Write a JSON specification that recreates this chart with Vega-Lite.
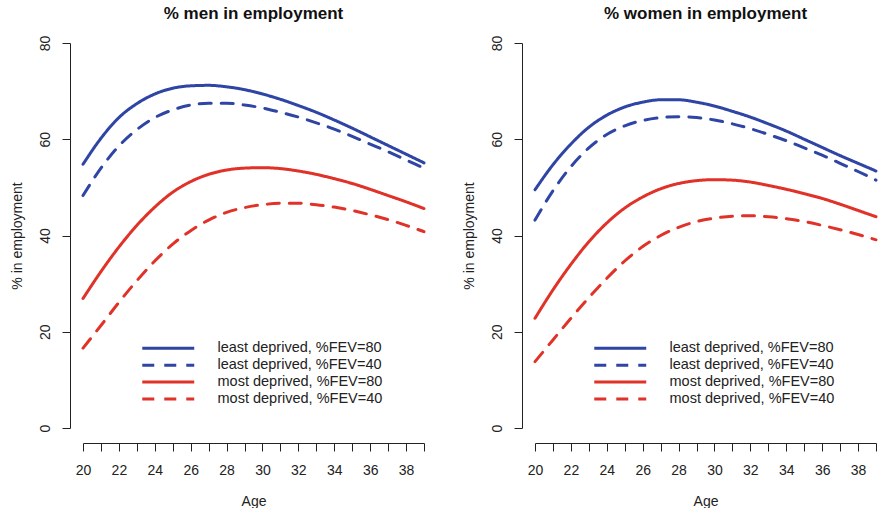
{
  "$schema": "https://vega.github.io/schema/vega-lite/v6.json",
  "background": "white",
  "padding": {"left": 10, "top": 5, "right": 0, "bottom": 0},
  "config": {
    "font": "Liberation Sans",
    "view": {"stroke": null},
    "axis": {"domainColor": "#222", "tickColor": "#222", "labelColor": "#222", "titleColor": "#222", "labelFont": "Liberation Sans", "titleFont": "Liberation Sans", "labelFontSize": 14, "titleFontSize": 14, "titleFontWeight": "normal", "grid": false, "tickSize": 8, "domainWidth": 1, "tickWidth": 1},
    "legend": {"labelFont": "Liberation Sans", "labelFontSize": 14.5, "labelColor": "#222", "labelLimit": 0}
  },
  "datasets": {
    "emp": [
      {"sex":"men","group":"least deprived, %FEV=80","age":20,"pct":54.8},{"sex":"men","group":"least deprived, %FEV=80","age":21,"pct":60.2},{"sex":"men","group":"least deprived, %FEV=80","age":22,"pct":64.5},{"sex":"men","group":"least deprived, %FEV=80","age":23,"pct":67.4},{"sex":"men","group":"least deprived, %FEV=80","age":24,"pct":69.4},{"sex":"men","group":"least deprived, %FEV=80","age":25,"pct":70.6},{"sex":"men","group":"least deprived, %FEV=80","age":26,"pct":71.1},{"sex":"men","group":"least deprived, %FEV=80","age":27,"pct":71.2},{"sex":"men","group":"least deprived, %FEV=80","age":28,"pct":70.9},{"sex":"men","group":"least deprived, %FEV=80","age":29,"pct":70.3},{"sex":"men","group":"least deprived, %FEV=80","age":30,"pct":69.4},{"sex":"men","group":"least deprived, %FEV=80","age":31,"pct":68.3},{"sex":"men","group":"least deprived, %FEV=80","age":32,"pct":67.0},{"sex":"men","group":"least deprived, %FEV=80","age":33,"pct":65.6},{"sex":"men","group":"least deprived, %FEV=80","age":34,"pct":64.0},{"sex":"men","group":"least deprived, %FEV=80","age":35,"pct":62.3},{"sex":"men","group":"least deprived, %FEV=80","age":36,"pct":60.5},{"sex":"men","group":"least deprived, %FEV=80","age":37,"pct":58.7},{"sex":"men","group":"least deprived, %FEV=80","age":38,"pct":56.9},{"sex":"men","group":"least deprived, %FEV=80","age":39,"pct":55.1},
      {"sex":"men","group":"least deprived, %FEV=40","age":20,"pct":48.3},{"sex":"men","group":"least deprived, %FEV=40","age":21,"pct":54.0},{"sex":"men","group":"least deprived, %FEV=40","age":22,"pct":58.6},{"sex":"men","group":"least deprived, %FEV=40","age":23,"pct":62.0},{"sex":"men","group":"least deprived, %FEV=40","age":24,"pct":64.5},{"sex":"men","group":"least deprived, %FEV=40","age":25,"pct":66.1},{"sex":"men","group":"least deprived, %FEV=40","age":26,"pct":67.1},{"sex":"men","group":"least deprived, %FEV=40","age":27,"pct":67.5},{"sex":"men","group":"least deprived, %FEV=40","age":28,"pct":67.5},{"sex":"men","group":"least deprived, %FEV=40","age":29,"pct":67.1},{"sex":"men","group":"least deprived, %FEV=40","age":30,"pct":66.5},{"sex":"men","group":"least deprived, %FEV=40","age":31,"pct":65.6},{"sex":"men","group":"least deprived, %FEV=40","age":32,"pct":64.6},{"sex":"men","group":"least deprived, %FEV=40","age":33,"pct":63.4},{"sex":"men","group":"least deprived, %FEV=40","age":34,"pct":62.1},{"sex":"men","group":"least deprived, %FEV=40","age":35,"pct":60.6},{"sex":"men","group":"least deprived, %FEV=40","age":36,"pct":59.0},{"sex":"men","group":"least deprived, %FEV=40","age":37,"pct":57.4},{"sex":"men","group":"least deprived, %FEV=40","age":38,"pct":55.7},{"sex":"men","group":"least deprived, %FEV=40","age":39,"pct":54.0},
      {"sex":"men","group":"most deprived, %FEV=80","age":20,"pct":26.9},{"sex":"men","group":"most deprived, %FEV=80","age":21,"pct":32.5},{"sex":"men","group":"most deprived, %FEV=80","age":22,"pct":37.6},{"sex":"men","group":"most deprived, %FEV=80","age":23,"pct":42.1},{"sex":"men","group":"most deprived, %FEV=80","age":24,"pct":45.9},{"sex":"men","group":"most deprived, %FEV=80","age":25,"pct":49.0},{"sex":"men","group":"most deprived, %FEV=80","age":26,"pct":51.2},{"sex":"men","group":"most deprived, %FEV=80","age":27,"pct":52.7},{"sex":"men","group":"most deprived, %FEV=80","age":28,"pct":53.6},{"sex":"men","group":"most deprived, %FEV=80","age":29,"pct":54.0},{"sex":"men","group":"most deprived, %FEV=80","age":30,"pct":54.1},{"sex":"men","group":"most deprived, %FEV=80","age":31,"pct":53.9},{"sex":"men","group":"most deprived, %FEV=80","age":32,"pct":53.4},{"sex":"men","group":"most deprived, %FEV=80","age":33,"pct":52.7},{"sex":"men","group":"most deprived, %FEV=80","age":34,"pct":51.8},{"sex":"men","group":"most deprived, %FEV=80","age":35,"pct":50.8},{"sex":"men","group":"most deprived, %FEV=80","age":36,"pct":49.6},{"sex":"men","group":"most deprived, %FEV=80","age":37,"pct":48.3},{"sex":"men","group":"most deprived, %FEV=80","age":38,"pct":47.0},{"sex":"men","group":"most deprived, %FEV=80","age":39,"pct":45.6},
      {"sex":"men","group":"most deprived, %FEV=40","age":20,"pct":16.6},{"sex":"men","group":"most deprived, %FEV=40","age":21,"pct":21.3},{"sex":"men","group":"most deprived, %FEV=40","age":22,"pct":26.1},{"sex":"men","group":"most deprived, %FEV=40","age":23,"pct":30.6},{"sex":"men","group":"most deprived, %FEV=40","age":24,"pct":34.7},{"sex":"men","group":"most deprived, %FEV=40","age":25,"pct":38.2},{"sex":"men","group":"most deprived, %FEV=40","age":26,"pct":41.0},{"sex":"men","group":"most deprived, %FEV=40","age":27,"pct":43.2},{"sex":"men","group":"most deprived, %FEV=40","age":28,"pct":44.8},{"sex":"men","group":"most deprived, %FEV=40","age":29,"pct":45.8},{"sex":"men","group":"most deprived, %FEV=40","age":30,"pct":46.4},{"sex":"men","group":"most deprived, %FEV=40","age":31,"pct":46.7},{"sex":"men","group":"most deprived, %FEV=40","age":32,"pct":46.7},{"sex":"men","group":"most deprived, %FEV=40","age":33,"pct":46.4},{"sex":"men","group":"most deprived, %FEV=40","age":34,"pct":45.9},{"sex":"men","group":"most deprived, %FEV=40","age":35,"pct":45.2},{"sex":"men","group":"most deprived, %FEV=40","age":36,"pct":44.3},{"sex":"men","group":"most deprived, %FEV=40","age":37,"pct":43.3},{"sex":"men","group":"most deprived, %FEV=40","age":38,"pct":42.1},{"sex":"men","group":"most deprived, %FEV=40","age":39,"pct":40.8},
      {"sex":"women","group":"least deprived, %FEV=80","age":20,"pct":49.5},{"sex":"women","group":"least deprived, %FEV=80","age":21,"pct":54.7},{"sex":"women","group":"least deprived, %FEV=80","age":22,"pct":59.0},{"sex":"women","group":"least deprived, %FEV=80","age":23,"pct":62.5},{"sex":"women","group":"least deprived, %FEV=80","age":24,"pct":65.0},{"sex":"women","group":"least deprived, %FEV=80","age":25,"pct":66.7},{"sex":"women","group":"least deprived, %FEV=80","age":26,"pct":67.7},{"sex":"women","group":"least deprived, %FEV=80","age":27,"pct":68.2},{"sex":"women","group":"least deprived, %FEV=80","age":28,"pct":68.2},{"sex":"women","group":"least deprived, %FEV=80","age":29,"pct":67.7},{"sex":"women","group":"least deprived, %FEV=80","age":30,"pct":66.9},{"sex":"women","group":"least deprived, %FEV=80","age":31,"pct":65.8},{"sex":"women","group":"least deprived, %FEV=80","age":32,"pct":64.6},{"sex":"women","group":"least deprived, %FEV=80","age":33,"pct":63.2},{"sex":"women","group":"least deprived, %FEV=80","age":34,"pct":61.7},{"sex":"women","group":"least deprived, %FEV=80","age":35,"pct":60.0},{"sex":"women","group":"least deprived, %FEV=80","age":36,"pct":58.3},{"sex":"women","group":"least deprived, %FEV=80","age":37,"pct":56.6},{"sex":"women","group":"least deprived, %FEV=80","age":38,"pct":55.0},{"sex":"women","group":"least deprived, %FEV=80","age":39,"pct":53.4},
      {"sex":"women","group":"least deprived, %FEV=40","age":20,"pct":43.2},{"sex":"women","group":"least deprived, %FEV=40","age":21,"pct":49.3},{"sex":"women","group":"least deprived, %FEV=40","age":22,"pct":54.3},{"sex":"women","group":"least deprived, %FEV=40","age":23,"pct":58.2},{"sex":"women","group":"least deprived, %FEV=40","age":24,"pct":61.0},{"sex":"women","group":"least deprived, %FEV=40","age":25,"pct":62.8},{"sex":"women","group":"least deprived, %FEV=40","age":26,"pct":63.9},{"sex":"women","group":"least deprived, %FEV=40","age":27,"pct":64.5},{"sex":"women","group":"least deprived, %FEV=40","age":28,"pct":64.7},{"sex":"women","group":"least deprived, %FEV=40","age":29,"pct":64.5},{"sex":"women","group":"least deprived, %FEV=40","age":30,"pct":64.0},{"sex":"women","group":"least deprived, %FEV=40","age":31,"pct":63.2},{"sex":"women","group":"least deprived, %FEV=40","age":32,"pct":62.2},{"sex":"women","group":"least deprived, %FEV=40","age":33,"pct":61.0},{"sex":"women","group":"least deprived, %FEV=40","age":34,"pct":59.7},{"sex":"women","group":"least deprived, %FEV=40","age":35,"pct":58.2},{"sex":"women","group":"least deprived, %FEV=40","age":36,"pct":56.7},{"sex":"women","group":"least deprived, %FEV=40","age":37,"pct":55.0},{"sex":"women","group":"least deprived, %FEV=40","age":38,"pct":53.3},{"sex":"women","group":"least deprived, %FEV=40","age":39,"pct":51.5},
      {"sex":"women","group":"most deprived, %FEV=80","age":20,"pct":22.8},{"sex":"women","group":"most deprived, %FEV=80","age":21,"pct":28.7},{"sex":"women","group":"most deprived, %FEV=80","age":22,"pct":34.0},{"sex":"women","group":"most deprived, %FEV=80","age":23,"pct":38.7},{"sex":"women","group":"most deprived, %FEV=80","age":24,"pct":42.6},{"sex":"women","group":"most deprived, %FEV=80","age":25,"pct":45.7},{"sex":"women","group":"most deprived, %FEV=80","age":26,"pct":48.0},{"sex":"women","group":"most deprived, %FEV=80","age":27,"pct":49.7},{"sex":"women","group":"most deprived, %FEV=80","age":28,"pct":50.8},{"sex":"women","group":"most deprived, %FEV=80","age":29,"pct":51.4},{"sex":"women","group":"most deprived, %FEV=80","age":30,"pct":51.6},{"sex":"women","group":"most deprived, %FEV=80","age":31,"pct":51.5},{"sex":"women","group":"most deprived, %FEV=80","age":32,"pct":51.1},{"sex":"women","group":"most deprived, %FEV=80","age":33,"pct":50.4},{"sex":"women","group":"most deprived, %FEV=80","age":34,"pct":49.6},{"sex":"women","group":"most deprived, %FEV=80","age":35,"pct":48.7},{"sex":"women","group":"most deprived, %FEV=80","age":36,"pct":47.7},{"sex":"women","group":"most deprived, %FEV=80","age":37,"pct":46.5},{"sex":"women","group":"most deprived, %FEV=80","age":38,"pct":45.2},{"sex":"women","group":"most deprived, %FEV=80","age":39,"pct":43.9},
      {"sex":"women","group":"most deprived, %FEV=40","age":20,"pct":13.8},{"sex":"women","group":"most deprived, %FEV=40","age":21,"pct":18.3},{"sex":"women","group":"most deprived, %FEV=40","age":22,"pct":22.8},{"sex":"women","group":"most deprived, %FEV=40","age":23,"pct":27.1},{"sex":"women","group":"most deprived, %FEV=40","age":24,"pct":31.1},{"sex":"women","group":"most deprived, %FEV=40","age":25,"pct":34.7},{"sex":"women","group":"most deprived, %FEV=40","age":26,"pct":37.7},{"sex":"women","group":"most deprived, %FEV=40","age":27,"pct":40.0},{"sex":"women","group":"most deprived, %FEV=40","age":28,"pct":41.7},{"sex":"women","group":"most deprived, %FEV=40","age":29,"pct":42.9},{"sex":"women","group":"most deprived, %FEV=40","age":30,"pct":43.6},{"sex":"women","group":"most deprived, %FEV=40","age":31,"pct":44.0},{"sex":"women","group":"most deprived, %FEV=40","age":32,"pct":44.1},{"sex":"women","group":"most deprived, %FEV=40","age":33,"pct":43.9},{"sex":"women","group":"most deprived, %FEV=40","age":34,"pct":43.5},{"sex":"women","group":"most deprived, %FEV=40","age":35,"pct":42.9},{"sex":"women","group":"most deprived, %FEV=40","age":36,"pct":42.1},{"sex":"women","group":"most deprived, %FEV=40","age":37,"pct":41.2},{"sex":"women","group":"most deprived, %FEV=40","age":38,"pct":40.2},{"sex":"women","group":"most deprived, %FEV=40","age":39,"pct":39.1}
    ]
  },
  "spacing": 111,
  "bounds": "flush",
  "resolve": {"legend": {"color": "independent", "strokeDash": "independent"}},
  "hconcat": [
    {
      "width": 341, "height": 385,
      "title": {"text": "% men in employment", "fontSize": 17, "fontWeight": "bold", "anchor": "middle", "frame": "group", "offset": 12, "color": "#111", "font": "Liberation Sans"},
      "data": {"name": "emp"},
      "transform": [{"filter": "datum.sex === 'men'"}],
      "mark": {"type": "line", "strokeWidth": 3, "strokeCap": "round", "interpolate": "monotone"},
      "encoding": {
        "x": {"field": "age", "type": "quantitative", "scale": {"domain": [20, 39], "nice": false, "zero": false},
              "axis": {"title": "Age", "values": [20,21,22,23,24,25,26,27,28,29,30,31,32,33,34,35,36,37,38,39], "labelExpr": "datum.value % 2 === 0 ? datum.label : ''", "labelOverlap": false, "labelFlush": false, "offset": 15, "labelPadding": 12, "titlePadding": 17}},
        "y": {"field": "pct", "type": "quantitative", "scale": {"domain": [0, 80], "nice": false},
              "axis": {"title": "% in employment", "values": [0,20,40,60,80], "labelAngle": -90, "labelAlign": "center", "labelBaseline": "bottom", "offset": 13, "labelPadding": 10, "titlePadding": 14}},
        "color": {"field": "group", "type": "nominal",
                  "scale": {"domain": ["least deprived, %FEV=80", "least deprived, %FEV=40", "most deprived, %FEV=80", "most deprived, %FEV=40"], "range": ["#2F45A6", "#2F45A6", "#E03228", "#E03228"]},
                  "legend": {"title": null, "orient": "none", "legendX": 78, "legendY": 298, "padding": 0, "symbolType": "M-5,0H5", "symbolSize": 108, "symbolStrokeWidth": 3, "labelOffset": 42, "rowPadding": 1.9, "labelFontSize": 14.5, "labelLimit": 0}},
        "strokeDash": {"field": "group", "type": "nominal",
                  "scale": {"domain": ["least deprived, %FEV=80", "least deprived, %FEV=40", "most deprived, %FEV=80", "most deprived, %FEV=40"], "range": [[1, 0], [12, 10], [1, 0], [12, 10]]},
                  "legend": {"title": null, "orient": "none", "legendX": 78, "legendY": 298, "padding": 0, "symbolType": "M-5,0H5", "symbolSize": 108, "symbolStrokeWidth": 3, "labelOffset": 42, "rowPadding": 1.9, "labelFontSize": 14.5, "labelLimit": 0}}
      }
    },
    {
      "width": 341, "height": 385,
      "title": {"text": "% women in employment", "fontSize": 17, "fontWeight": "bold", "anchor": "middle", "frame": "group", "offset": 12, "color": "#111", "font": "Liberation Sans"},
      "data": {"name": "emp"},
      "transform": [{"filter": "datum.sex === 'women'"}],
      "mark": {"type": "line", "strokeWidth": 3, "strokeCap": "round", "interpolate": "monotone"},
      "encoding": {
        "x": {"field": "age", "type": "quantitative", "scale": {"domain": [20, 39], "nice": false, "zero": false},
              "axis": {"title": "Age", "values": [20,21,22,23,24,25,26,27,28,29,30,31,32,33,34,35,36,37,38,39], "labelExpr": "datum.value % 2 === 0 ? datum.label : ''", "labelOverlap": false, "labelFlush": false, "offset": 15, "labelPadding": 12, "titlePadding": 17}},
        "y": {"field": "pct", "type": "quantitative", "scale": {"domain": [0, 80], "nice": false},
              "axis": {"title": "% in employment", "values": [0,20,40,60,80], "labelAngle": -90, "labelAlign": "center", "labelBaseline": "bottom", "offset": 13, "labelPadding": 10, "titlePadding": 14}},
        "color": {"field": "group", "type": "nominal",
                  "scale": {"domain": ["least deprived, %FEV=80", "least deprived, %FEV=40", "most deprived, %FEV=80", "most deprived, %FEV=40"], "range": ["#2F45A6", "#2F45A6", "#E03228", "#E03228"]},
                  "legend": {"title": null, "orient": "none", "legendX": 78, "legendY": 298, "padding": 0, "symbolType": "M-5,0H5", "symbolSize": 108, "symbolStrokeWidth": 3, "labelOffset": 42, "rowPadding": 1.9, "labelFontSize": 14.5, "labelLimit": 0}},
        "strokeDash": {"field": "group", "type": "nominal",
                  "scale": {"domain": ["least deprived, %FEV=80", "least deprived, %FEV=40", "most deprived, %FEV=80", "most deprived, %FEV=40"], "range": [[1, 0], [12, 10], [1, 0], [12, 10]]},
                  "legend": {"title": null, "orient": "none", "legendX": 78, "legendY": 298, "padding": 0, "symbolType": "M-5,0H5", "symbolSize": 108, "symbolStrokeWidth": 3, "labelOffset": 42, "rowPadding": 1.9, "labelFontSize": 14.5, "labelLimit": 0}}
      }
    }
  ]
}
